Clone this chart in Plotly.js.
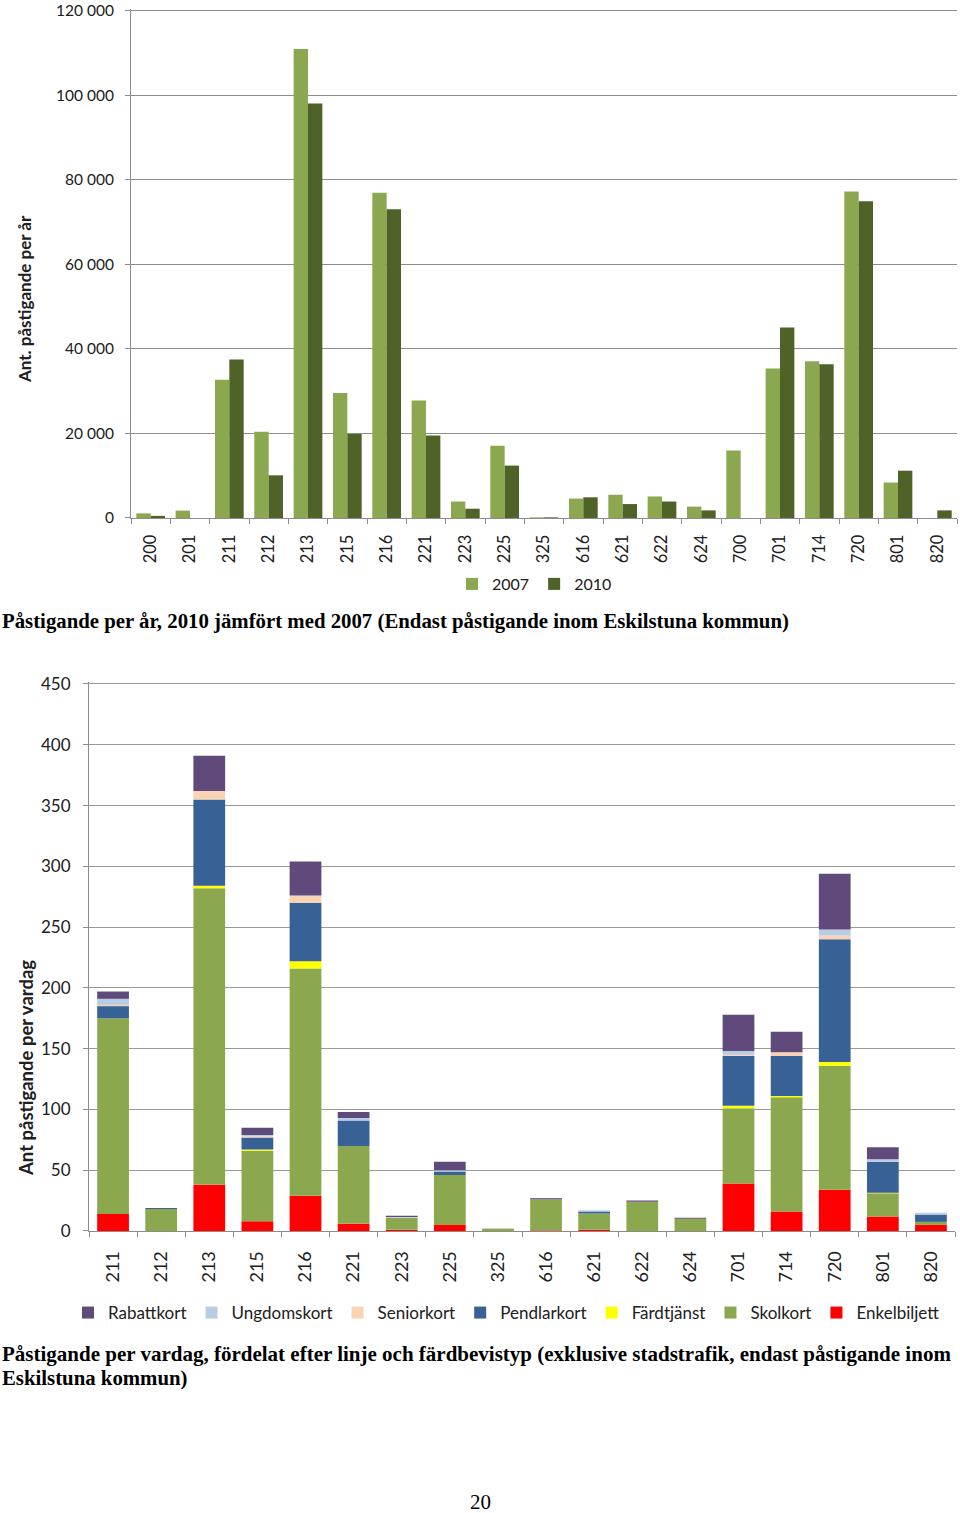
<!DOCTYPE html>
<html>
<head>
<meta charset="utf-8">
<script src="https://cdn.plot.ly/plotly-3.0.1.min.js"></script>
<style>html,body{margin:0;padding:0;background:#fff;}#chart{width:960px;height:1513px;}</style>
</head>
<body>
<div id="chart"></div>
<script>
// ---- Top chart: passengers per year ----
const linesYear = ['200','201','211','212','213','215','216','221','223','225','325','616','621','622','624','700','701','714','720','801','820'];
const year2007 = [1100,1750,32700,20400,111000,29600,77000,27800,3900,17100,150,4600,5500,5100,2700,16000,35400,37100,77300,8400,0];
const year2010 = [500,0,37500,10100,98100,19900,73100,19500,2200,12400,150,4900,3300,3900,1800,0,45100,36400,75000,11200,1800];

// ---- Bottom chart: passengers per weekday by ticket type ----
const linesDay = ['211','212','213','215','216','221','223','225','325','616','621','622','624','701','714','720','801','820'];
const enkelbiljett = [14,0,38,8,29,6,1,5,0,0.5,1,0,0,39,16,34,12,5];
const skolkort     = [161,18,244,58,187,64,10,41,2,25.5,13.5,24,10,62,94,102,19,2.5];
const fardtjanst   = [0,0,2,1,6,0,0,0,0,0,0,0,0,2,1,3,0.5,0];
const pendlarkort  = [10,1,71,10,48,21,0,3,0,0,1.5,0,0,41,33,101,25.5,6];
const seniorkort   = [1,0,7,1,6,0,0,0,0,0,0,0,0,1,3,3,0,0];
const ungdomskort  = [5,0,0,1,0,2,0.5,1,0,0,1,0,0,3,0,5,2,1.5];
const rabattkort   = [6,0,29,6,28,5,1,7,0,1,0,1,1,30,17,46,10,0];

const W = 960, H = 1513;
const px = x => x / W;
const py = y => 1 - y / H;
const sansFont = 'Lato, "Open Sans", sans-serif';
const serifFont = '"Liberation Serif", "DejaVu Serif", serif';

const traces = [];
traces.push({type:'bar', name:'2007', x:linesYear, y:year2007, xaxis:'x', yaxis:'y',
  marker:{color:'#8BA850'}, legend:'legend'});
traces.push({type:'bar', name:'2010', x:linesYear, y:year2010, xaxis:'x', yaxis:'y',
  marker:{color:'#4F6228'}, legend:'legend'});

const stackSeries = [
  {name:'Enkelbiljett', data:enkelbiljett, color:'#FF0000'},
  {name:'Skolkort', data:skolkort, color:'#8CA84F'},
  {name:'Färdtjänst', data:fardtjanst, color:'#FFFF00'},
  {name:'Pendlarkort', data:pendlarkort, color:'#386295'},
  {name:'Seniorkort', data:seniorkort, color:'#FAD3B4'},
  {name:'Ungdomskort', data:ungdomskort, color:'#B8CCE4'},
  {name:'Rabattkort', data:rabattkort, color:'#604A7B'}
];
let cum = linesDay.map(() => 0);
stackSeries.forEach(s => {
  traces.push({type:'bar', name:s.name, x:linesDay, y:s.data, base:cum.slice(),
    width:0.66, offset:-0.33, xaxis:'x2', yaxis:'y2',
    marker:{color:s.color}, legend:'legend2'});
  cum = cum.map((c,i) => c + s.data[i]);
});

const axisCommon = {
  showline:true, linecolor:'#8c8c8c', linewidth:1,
  tickcolor:'#8c8c8c', ticklen:5, ticks:'outside',
  zeroline:false, fixedrange:true, ticklabeloverflow:'allow'
};
const tf = size => ({family:sansFont, size:size, color:'#202020'});

// top y-range padded so the 120 000 gridline is drawn (0 at y=518px, 120 000 at y=11px)
const topMax = 120500;
const topPxPer = 507 / 120000;
const topY = 518 - topMax * topPxPer;
const botMax = 452;
const botY = 1231 - botMax * 547 / 450;

const layout = {
  width:W, height:H,
  margin:{l:0, r:0, t:0, b:0},
  paper_bgcolor:'#ffffff', plot_bgcolor:'#ffffff',
  barmode:'group', bargap:0.27, bargroupgap:0,
  separators:', ',
  showlegend:true,
  xaxis: Object.assign({}, axisCommon, {
    domain:[px(131), px(957)], anchor:'y', type:'category',
    tickson:'boundaries', tickangle:-90, showgrid:false,
    tickfont:tf(16.5), ticklabelstandoff:9
  }),
  yaxis: Object.assign({}, axisCommon, {
    domain:[py(518), py(topY)], anchor:'x', range:[0,topMax], tick0:0, dtick:20000,
    tickformat:',d', showgrid:true, gridcolor:'#8c8c8c', gridwidth:1,
    tickfont:tf(15.5), ticklabelstandoff:8
  }),
  xaxis2: Object.assign({}, axisCommon, {
    domain:[px(89), px(955)], anchor:'y2', type:'category',
    tickson:'boundaries', tickangle:-90, showgrid:false,
    tickfont:tf(18), ticklabelstandoff:12
  }),
  yaxis2: Object.assign({}, axisCommon, {
    domain:[py(1231), py(botY)], anchor:'x2', range:[0,botMax], tick0:0, dtick:50,
    showgrid:true, gridcolor:'#9a9a9a', gridwidth:1,
    tickfont:tf(17), ticklabelstandoff:9
  }),
  legend:{orientation:'h', x:px(452), y:py(584), xanchor:'left', yanchor:'middle',
    font:tf(16), itemwidth:30, bgcolor:'rgba(0,0,0,0)', traceorder:'normal'},
  legend2:{orientation:'h', x:px(68), y:py(1313), xanchor:'left', yanchor:'middle',
    font:tf(17), itemwidth:30, bgcolor:'rgba(0,0,0,0)', traceorder:'reversed'},
  annotations:[
    {text:'<b>Ant. påstigande per år</b>', textangle:-90, x:px(25), y:py(299),
      xref:'paper', yref:'paper', xanchor:'center', yanchor:'middle', showarrow:false,
      font:{family:sansFont, size:17, color:'#202020'}},
    {text:'<b>Ant påstigande per vardag</b>', textangle:-90, x:px(26), y:py(1068),
      xref:'paper', yref:'paper', xanchor:'center', yanchor:'middle', showarrow:false,
      font:{family:sansFont, size:18.5, color:'#202020'}},
    {text:'<b>Påstigande per år, 2010 jämfört med 2007 (Endast påstigande inom Eskilstuna kommun)</b>',
      x:0, y:py(621), xref:'paper', yref:'paper', xanchor:'left', yanchor:'middle', showarrow:false,
      font:{family:serifFont, size:20.8, color:'#000'}},
    {text:'<b>Påstigande per vardag, fördelat efter linje och färdbevistyp (exklusive stadstrafik, endast påstigande inom</b>',
      x:0, y:py(1354), xref:'paper', yref:'paper', xanchor:'left', yanchor:'middle', showarrow:false,
      font:{family:serifFont, size:21, color:'#000'}},
    {text:'<b>Eskilstuna kommun)</b>',
      x:0, y:py(1378), xref:'paper', yref:'paper', xanchor:'left', yanchor:'middle', showarrow:false,
      font:{family:serifFont, size:20.8, color:'#000'}},
    {text:'20', x:0.5, y:py(1502), xref:'paper', yref:'paper', xanchor:'center', yanchor:'middle',
      showarrow:false, font:{family:serifFont, size:21, color:'#000'}}
  ]
};

Plotly.newPlot('chart', traces, layout, {displayModeBar:false, staticPlot:true});
</script>
</body>
</html>
